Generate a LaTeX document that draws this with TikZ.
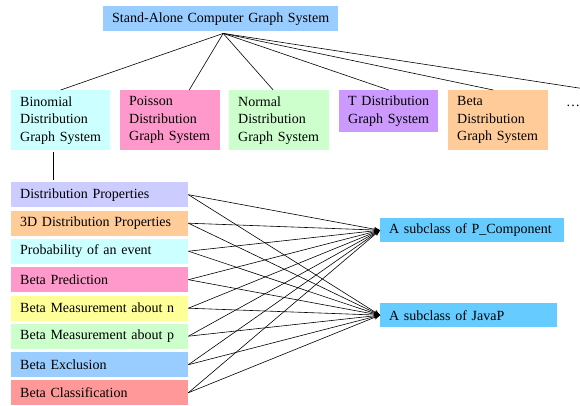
\documentclass[tikz,border=0pt]{standalone}
\usepackage{fontspec}
\setmainfont{Liberation Serif}
\usepackage{tikz}
\usetikzlibrary{arrows.meta}

\definecolor{skyblue}{HTML}{99CCFF}
\definecolor{deepsky}{HTML}{66CCFF}
\definecolor{palecyan}{HTML}{CCFFFF}
\definecolor{pinkish}{HTML}{FF99CC}
\definecolor{palegreen}{HTML}{CCFFCC}
\definecolor{lilac}{HTML}{CC99FF}
\definecolor{peach}{HTML}{FFCC99}
\definecolor{lavender}{HTML}{CCCCFF}
\definecolor{paleyellow}{HTML}{FFFF99}
\definecolor{salmon}{HTML}{FF9999}

\tikzset{
	box/.style={anchor=north west, inner xsep=9pt, inner ysep=1pt, align=left,
		font=\fontsize{14}{17.5}\selectfont},
	link/.style={line width=0.6pt},
	feed/.style={line width=0.6pt, -{Stealth[length=6pt,width=4.5pt]}}
}

\begin{document}
\begin{tikzpicture}[x=1pt,y=-1pt]
	\useasboundingbox (0,0) rectangle (580,406);
	
	%top
	\node[box,fill=skyblue,text width=217pt,minimum height=25pt] (top) at (103,6) {Stand-Alone Computer Graph System};
	
	%systems
	\node[box,fill=palecyan,text width=81pt,minimum height=60pt] (binomial) at (11,90) {Binomial\\Distribution\\Graph System};
	\node[box,fill=pinkish,text width=82pt,minimum height=60pt] (poisson) at (120,90) {Poisson\\Distribution\\Graph System};
	\node[box,fill=palegreen,text width=82pt,minimum height=60pt] (normal) at (229,90) {Normal\\Distribution\\Graph System};
	\node[box,fill=lilac,text width=81pt,minimum height=42pt] (tdist) at (339,90) {T Distribution\\Graph System};
	\node[box,fill=peach,text width=82pt,minimum height=60pt] (beta) at (448,90) {Beta\\Distribution\\Graph System};
	\node[anchor=base west,inner sep=0pt,font=\fontsize{14}{17.5}\selectfont] (dots) at (566,107) {\dots};
	\coordinate (more) at (582,88.5);
	
	%components
	\node[box,fill=lavender,text width=159pt,minimum height=25pt] (props) at (11,182) {Distribution Properties};
	\node[box,fill=peach,text width=159pt,minimum height=25pt] (props3d) at (11,210.5) {3D Distribution Properties};
	\node[box,fill=palecyan,text width=159pt,minimum height=25pt] (prob) at (11,238.5) {Probability of an event};
	\node[box,fill=pinkish,text width=159pt,minimum height=25pt] (pred) at (11,267) {Beta Prediction};
	\node[box,fill=paleyellow,text width=159pt,minimum height=25pt] (measn) at (11,295.5) {Beta Measurement about n};
	\node[box,fill=palegreen,text width=159pt,minimum height=25pt] (measp) at (11,323.5) {Beta Measurement about p};
	\node[box,fill=skyblue,text width=159pt,minimum height=25pt] (excl) at (11,352) {Beta Exclusion};
	\node[box,fill=salmon,text width=159pt,minimum height=25pt] (classif) at (11,380) {Beta Classification};
	
	%classes
	\node[box,fill=deepsky,text width=166pt,minimum height=24pt] (pcomp) at (380,218) {A subclass of P\_Component};
	\node[box,fill=deepsky,text width=159pt,minimum height=24pt] (javap) at (380,303) {A subclass of JavaP};
	
	%tree lines
	\draw[link] ([xshift=2.5pt,yshift=-2pt]top.south) -- (binomial.north);
	\draw[link] ([xshift=2.5pt,yshift=-2pt]top.south) -- ([xshift=19pt]poisson.north);
	\draw[link] ([xshift=2.5pt,yshift=-2pt]top.south) -- ([xshift=-6pt]normal.north);
	\draw[link] ([xshift=2.5pt,yshift=-2pt]top.south) -- (tdist.north);
	\draw[link] ([xshift=2.5pt,yshift=-2pt]top.south) -- ([xshift=-5pt]beta.north);
	\draw[link] ([xshift=2.5pt,yshift=-2pt]top.south) -- (more);
	\draw[link] ([xshift=-7.5pt,yshift=-2pt]binomial.south) -- ([xshift=-7.5pt,yshift=2pt]binomial.south |- props.north);
	
	%component to class lines
	\draw[feed] (props.east) -- (pcomp.west);
	\draw[feed] (props.east) -- (javap.west);
	\draw[feed] (props3d.east) -- (pcomp.west);
	\draw[feed] (props3d.east) -- (javap.west);
	\draw[feed] (prob.east) -- (pcomp.west);
	\draw[feed] (prob.east) -- (javap.west);
	\draw[feed] (pred.east) -- (pcomp.west);
	\draw[feed] (pred.east) -- (javap.west);
	\draw[feed] (measn.east) -- (pcomp.west);
	\draw[feed] (measn.east) -- (javap.west);
	\draw[feed] (measp.east) -- (pcomp.west);
	\draw[feed] (measp.east) -- (javap.west);
	\draw[feed] (excl.east) -- (pcomp.west);
	\draw[feed] (excl.east) -- (javap.west);
	\draw[feed] (classif.east) -- (pcomp.west);
	\draw[feed] (classif.east) -- (javap.west);
\end{tikzpicture}
\end{document}
